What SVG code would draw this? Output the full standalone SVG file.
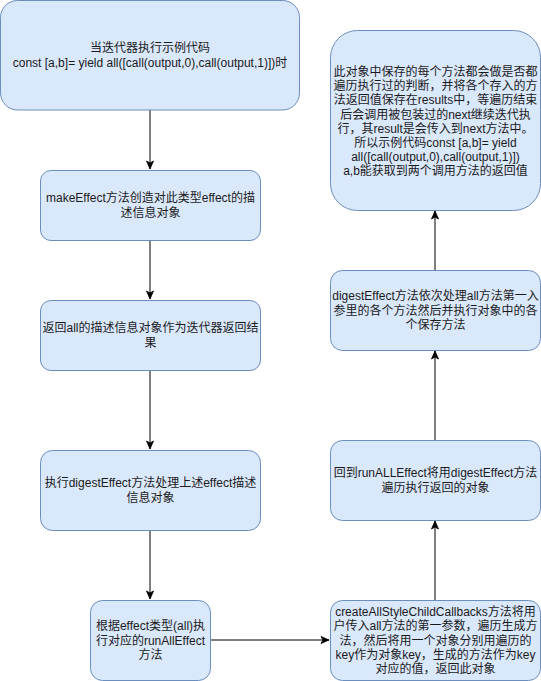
<svg xmlns="http://www.w3.org/2000/svg" width="541" height="681" viewBox="0 0 541 681">
<defs>
<style>
.box{fill:#dae8fc;stroke:#6c8ebf;stroke-width:1}
.t{font-family:"Liberation Sans","Noto Sans CJK SC",sans-serif;font-size:12px;fill:#1a1a1a;text-anchor:middle}
.c{stroke:#000;stroke-width:1;fill:none}
</style>
<marker id="ah" markerWidth="10" markerHeight="10" viewBox="0 0 10 10" refX="9" refY="5" orient="auto" markerUnits="userSpaceOnUse">
<path d="M1,1.5 L9,5 L1,8.5 L3,5 Z" fill="#000" stroke="#000" stroke-width="0.8"/>
</marker>
</defs>
<rect width="541" height="681" fill="#fff"/>
<g id="connectors">
<line class="c" x1="150" y1="110" x2="150" y2="169" marker-end="url(#ah)"/>
<line class="c" x1="150" y1="240" x2="150" y2="299" marker-end="url(#ah)"/>
<line class="c" x1="150" y1="370" x2="150" y2="449" marker-end="url(#ah)"/>
<line class="c" x1="150" y1="530" x2="150" y2="599" marker-end="url(#ah)"/>
<line class="c" x1="210" y1="640" x2="329" y2="640" marker-end="url(#ah)"/>
<line class="c" x1="435" y1="600" x2="435" y2="521" marker-end="url(#ah)"/>
<line class="c" x1="435" y1="440" x2="435" y2="351" marker-end="url(#ah)"/>
<line class="c" x1="435" y1="270" x2="435" y2="211" marker-end="url(#ah)"/>
</g>
<g id="n1">
<rect class="box" x="0.5" y="0.5" width="299" height="109.5" rx="17" ry="17"/>
<text class="t"><tspan x="150" y="52.3">当迭代器执行示例代码</tspan><tspan x="150" y="66.7">const [a,b]= yield all([call(output,0),call(output,1)])时</tspan></text>
</g>
<g id="n2">
<rect class="box" x="40.5" y="170.5" width="220" height="70" rx="10.5" ry="10.5"/>
<text class="t"><tspan x="150.5" y="202.3">makeEffect方法创造对此类型effect的描</tspan><tspan x="150.5" y="216.7">述信息对象</tspan></text>
</g>
<g id="n3">
<rect class="box" x="40.5" y="300.5" width="220" height="70" rx="10.5" ry="10.5"/>
<text class="t"><tspan x="150.5" y="332.3">返回all的描述信息对象作为迭代器返回结</tspan><tspan x="150.5" y="346.7">果</tspan></text>
</g>
<g id="n4">
<rect class="box" x="40.5" y="450.5" width="220" height="80" rx="12" ry="12"/>
<text class="t"><tspan x="150.5" y="487.3">执行digestEffect方法处理上述effect描述</tspan><tspan x="150.5" y="501.7">信息对象</tspan></text>
</g>
<g id="n5">
<rect class="box" x="90.5" y="600.5" width="120" height="80" rx="12" ry="12"/>
<text class="t"><tspan x="150.5" y="630.1">根据effect类型(all)执</tspan><tspan x="150.5" y="644.5">行对应的runAllEffect</tspan><tspan x="150.5" y="658.9">方法</tspan></text>
</g>
<g id="n6">
<rect class="box" x="330.5" y="600.5" width="210" height="80" rx="12" ry="12"/>
<text class="t"><tspan x="435.5" y="615.7">createAllStyleChildCallbacks方法将用</tspan><tspan x="435.5" y="630.1">户传入all方法的第一参数，遍历生成方</tspan><tspan x="435.5" y="644.5">法，然后将用一个对象分别用遍历的</tspan><tspan x="435.5" y="658.9">key作为对象key，生成的方法作为key</tspan><tspan x="435.5" y="673.3">对应的值，返回此对象</tspan></text>
</g>
<g id="n7">
<rect class="box" x="330.5" y="440.5" width="210" height="80" rx="12" ry="12"/>
<text class="t"><tspan x="435.5" y="477.3">回到runALLEffect将用digestEffect方法</tspan><tspan x="435.5" y="491.7">遍历执行返回的对象</tspan></text>
</g>
<g id="n8">
<rect class="box" x="330.5" y="270.5" width="210" height="80" rx="12" ry="12"/>
<text class="t"><tspan x="435.5" y="300.1">digestEffect方法依次处理all方法第一入</tspan><tspan x="435.5" y="314.5">参里的各个方法然后并执行对象中的各</tspan><tspan x="435.5" y="328.9">个保存方法</tspan></text>
</g>
<g id="n9">
<rect class="box" x="330.5" y="30.5" width="210" height="180" rx="27" ry="27"/>
<text class="t"><tspan x="435.5" y="76">此对象中保存的每个方法都会做是否都</tspan><tspan x="435.5" y="90.2">遍历执行过的判断，并将各个存入的方</tspan><tspan x="435.5" y="104.4">法返回值保存在results中，等遍历结束</tspan><tspan x="435.5" y="118.6">后会调用被包装过的next继续迭代执</tspan><tspan x="435.5" y="132.8">行，其result是会传入到next方法中。</tspan><tspan x="435.5" y="147">所以示例代码const [a,b]= yield</tspan><tspan x="435.5" y="161.2">all([call(output,0),call(output,1)])</tspan><tspan x="435.5" y="175.4">a,b能获取到两个调用方法的返回值</tspan></text>
</g>
</svg>
